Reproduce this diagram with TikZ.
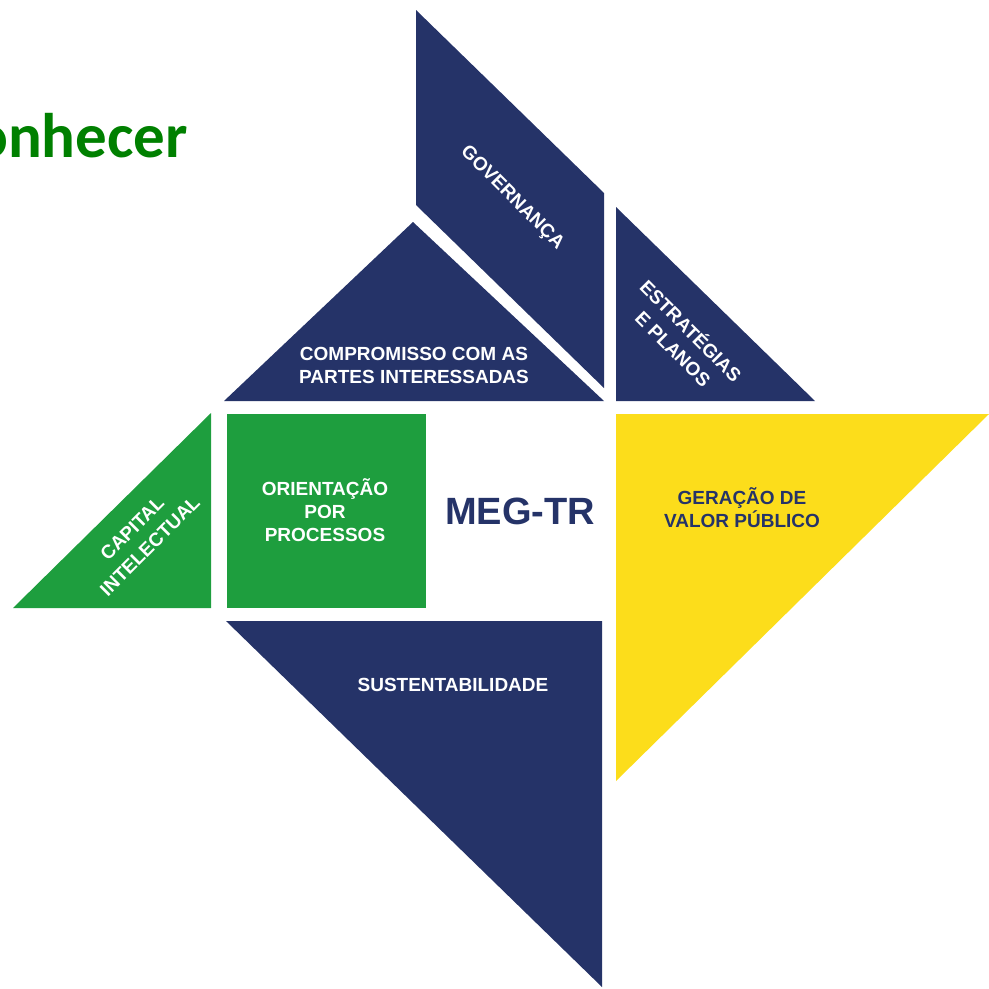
\documentclass[tikz,border=0pt]{standalone}
\usepackage{xcolor}
\usepackage{fontspec}
\setmainfont{Liberation Sans}
\newfontfamily\titlefont{Carlito}
\usepackage{tikz}
\usetikzlibrary{positioning}
\definecolor{megblue}{RGB}{37,51,104}
\definecolor{meggreen}{RGB}{30,158,62}
\definecolor{megyellow}{RGB}{252,221,27}
\definecolor{titlegreen}{RGB}{0,128,0}
\tikzset{
  blue piece/.style={fill=megblue},
  green piece/.style={fill=meggreen},
  yellow piece/.style={fill=megyellow},
  piece text/.style={text=white, font=\bfseries\fontsize{19}{23}\selectfont, align=center, inner sep=0pt},
  slant text/.style={piece text, font=\bfseries\fontsize{19}{25}\selectfont},
  dark text/.style={piece text, text=megblue}
}

\begin{document}
\begin{tikzpicture}[x=1pt, y=-1pt]
        \useasboundingbox (0,0) rectangle (989,989);
        % Pieces of the model
        \fill[blue piece] (416,10) -- (604,193) -- (604,388) -- (416,205) -- cycle;
        \fill[blue piece] (413,222) -- (604,401) -- (224,401) -- cycle;
        \fill[blue piece] (616,207) -- (815,401) -- (616,401) -- cycle;
        \fill[green piece] (211,413) -- (211,608) -- (13,608) -- cycle;
        \fill[green piece] (227,414) rectangle (426,608);
        \fill[yellow piece] (616,414) -- (989,414) -- (616,781) -- cycle;
        \fill[blue piece] (226,621) -- (602,621) -- (602,987) -- cycle;

        % Labels
        \node[anchor=base east, text=titlegreen, font=\titlefont\bfseries\fontsize{63}{63}\selectfont, inner sep=0pt] (title) at (188,157) {onhecer};
        \node[slant text, rotate=-45] (governanca) at (512,198) {GOVERNANÇA};
        \node[piece text] (compromisso) at (414,365) {COMPROMISSO COM AS\\PARTES INTERESSADAS};
        \node[slant text, rotate=-45] (estrategias) at (683,339) {ESTRATÉGIAS\\E PLANOS};
        \node[slant text, rotate=45] (capital) at (141,537) {CAPITAL\\INTELECTUAL};
        \node[piece text] (orientacao) at (325,510) {ORIENTAÇÃO\\POR\\PROCESSOS};
        \node[dark text, font=\bfseries\fontsize{38}{40}\selectfont] (meg) at (520,511) {MEG-TR};
        \node[dark text] (geracao) at (742,508) {GERAÇÃO DE\\VALOR PÚBLICO};
        \node[piece text] (sustentabilidade) at (453,685) {SUSTENTABILIDADE};
    \end{tikzpicture}
\end{document}
